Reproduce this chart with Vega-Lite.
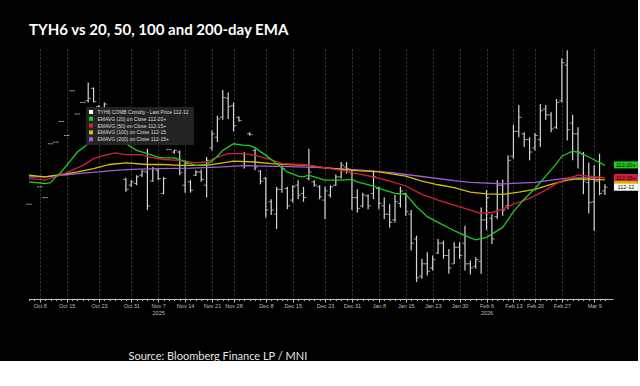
{
"$schema": "https://vega.github.io/schema/vega-lite/v6.json",
"width": 584, "height": 250,
"padding": {"left": 26, "top": 23, "right": 0, "bottom": 0},
"background": "#000000",
"title": {"text": "TYH6 vs 20, 50, 100 and 200-day EMA", "anchor": "start", "frame": "group", "color": "#ffffff", "fontSize": 15, "fontWeight": "bold", "font": "Lato", "offset": 11},
"config": {"view": {"stroke": null}, "font": "Liberation Sans"},
"datasets": {
"bars": [
{"d":"2025-10-06","o":112.17,"h":112.17,"l":112.17,"c":112.17},
{"d":"2025-10-08","o":112.38,"h":112.38,"l":112.38,"c":112.38},
{"d":"2025-10-09","o":112.25,"h":112.25,"l":112.25,"c":112.25},
{"d":"2025-10-10","o":112.90,"h":112.90,"l":112.90,"c":112.90},
{"d":"2025-10-13","o":112.92,"h":112.92,"l":112.92,"c":112.92},
{"d":"2025-10-14","o":113.17,"h":113.17,"l":113.17,"c":113.17},
{"d":"2025-10-15","o":113.00,"h":113.00,"l":113.00,"c":113.00},
{"d":"2025-10-16","o":113.54,"h":113.54,"l":113.54,"c":113.54},
{"d":"2025-10-17","o":113.26,"h":113.26,"l":113.26,"c":113.26},
{"d":"2025-10-20","o":113.40,"h":113.40,"l":113.40,"c":113.40},
{"d":"2025-10-21","o":113.42,"h":113.64,"l":113.40,"c":113.45},
{"d":"2025-10-22","o":113.57,"h":113.58,"l":113.40,"c":113.41},
{"d":"2025-10-23","o":113.35,"h":113.37,"l":113.25,"c":113.28},
{"d":"2025-10-24","o":113.33,"h":113.40,"l":113.31,"c":113.38},
{"d":"2025-10-27","o":113.26,"h":113.28,"l":113.13,"c":113.15},
{"d":"2025-10-28","o":113.14,"h":113.16,"l":113.02,"c":113.05},
{"d":"2025-10-29","o":113.08,"h":113.12,"l":113.00,"c":113.02},
{"d":"2025-10-30","o":112.47,"h":112.49,"l":112.32,"c":112.35},
{"d":"2025-10-31","o":112.40,"h":112.46,"l":112.38,"c":112.44},
{"d":"2025-11-03","o":112.42,"h":112.52,"l":112.40,"c":112.50},
{"d":"2025-11-04","o":112.52,"h":112.58,"l":112.50,"c":112.57},
{"d":"2025-11-05","o":112.56,"h":112.84,"l":112.10,"c":112.15},
{"d":"2025-11-06","o":112.45,"h":112.62,"l":112.44,"c":112.60},
{"d":"2025-11-07","o":112.58,"h":112.60,"l":112.46,"c":112.48},
{"d":"2025-11-10","o":112.30,"h":112.50,"l":112.29,"c":112.48},
{"d":"2025-11-11","o":112.83,"h":112.83,"l":112.83,"c":112.83},
{"d":"2025-11-12","o":112.80,"h":112.83,"l":112.78,"c":112.82},
{"d":"2025-11-13","o":112.80,"h":112.82,"l":112.52,"c":112.55},
{"d":"2025-11-14","o":112.40,"h":112.70,"l":112.31,"c":112.66},
{"d":"2025-11-17","o":112.44,"h":112.46,"l":112.31,"c":112.34},
{"d":"2025-11-18","o":112.52,"h":112.58,"l":112.51,"c":112.56},
{"d":"2025-11-19","o":112.56,"h":112.59,"l":112.44,"c":112.47},
{"d":"2025-11-20","o":112.40,"h":112.74,"l":112.25,"c":112.70},
{"d":"2025-11-21","o":112.85,"h":113.06,"l":112.82,"c":113.02},
{"d":"2025-11-24","o":112.98,"h":113.24,"l":112.92,"c":113.20},
{"d":"2025-11-25","o":113.22,"h":113.55,"l":113.19,"c":113.46},
{"d":"2025-11-26","o":113.45,"h":113.52,"l":113.20,"c":113.35},
{"d":"2025-11-28","o":113.36,"h":113.40,"l":113.05,"c":113.12},
{"d":"2025-12-01","o":113.22,"h":113.23,"l":113.17,"c":113.18},
{"d":"2025-12-02","o":112.78,"h":112.80,"l":112.60,"c":112.64},
{"d":"2025-12-03","o":113.02,"h":113.04,"l":113.00,"c":113.01},
{"d":"2025-12-04","o":112.82,"h":112.84,"l":112.58,"c":112.62},
{"d":"2025-12-05","o":112.57,"h":112.58,"l":112.41,"c":112.45},
{"d":"2025-12-08","o":112.48,"h":112.50,"l":112.01,"c":112.10},
{"d":"2025-12-09","o":112.20,"h":112.23,"l":112.04,"c":112.10},
{"d":"2025-12-10","o":112.05,"h":112.38,"l":111.87,"c":112.35},
{"d":"2025-12-11","o":112.35,"h":112.64,"l":112.31,"c":112.60},
{"d":"2025-12-12","o":112.36,"h":112.38,"l":112.11,"c":112.15},
{"d":"2025-12-15","o":112.22,"h":112.40,"l":112.19,"c":112.38},
{"d":"2025-12-16","o":112.40,"h":112.46,"l":112.23,"c":112.28},
{"d":"2025-12-17","o":112.30,"h":112.38,"l":112.20,"c":112.25},
{"d":"2025-12-18","o":112.48,"h":112.84,"l":112.46,"c":112.56},
{"d":"2025-12-19","o":112.44,"h":112.46,"l":112.38,"c":112.40},
{"d":"2025-12-22","o":112.38,"h":112.40,"l":112.23,"c":112.26},
{"d":"2025-12-23","o":112.22,"h":112.38,"l":111.99,"c":112.33},
{"d":"2025-12-24","o":112.28,"h":112.40,"l":112.25,"c":112.38},
{"d":"2025-12-26","o":112.40,"h":112.53,"l":112.39,"c":112.50},
{"d":"2025-12-29","o":112.50,"h":112.68,"l":112.48,"c":112.64},
{"d":"2025-12-30","o":112.62,"h":112.68,"l":112.54,"c":112.60},
{"d":"2025-12-31","o":112.55,"h":112.58,"l":112.10,"c":112.25},
{"d":"2026-01-02","o":112.25,"h":112.35,"l":112.07,"c":112.12},
{"d":"2026-01-05","o":112.15,"h":112.31,"l":112.13,"c":112.28},
{"d":"2026-01-06","o":112.27,"h":112.29,"l":112.11,"c":112.15},
{"d":"2026-01-07","o":112.30,"h":112.58,"l":112.23,"c":112.50},
{"d":"2026-01-08","o":112.36,"h":112.38,"l":112.11,"c":112.18},
{"d":"2026-01-09","o":112.15,"h":112.25,"l":111.99,"c":112.05},
{"d":"2026-01-12","o":112.05,"h":112.17,"l":111.89,"c":111.95},
{"d":"2026-01-13","o":111.98,"h":112.28,"l":111.95,"c":112.20},
{"d":"2026-01-14","o":112.18,"h":112.38,"l":112.13,"c":112.33},
{"d":"2026-01-15","o":112.30,"h":112.31,"l":112.03,"c":112.08},
{"d":"2026-01-16","o":112.05,"h":112.10,"l":111.61,"c":111.70},
{"d":"2026-01-20","o":111.75,"h":111.79,"l":111.23,"c":111.28},
{"d":"2026-01-21","o":111.30,"h":111.51,"l":111.27,"c":111.45},
{"d":"2026-01-22","o":111.45,"h":111.59,"l":111.31,"c":111.36},
{"d":"2026-01-23","o":111.40,"h":111.55,"l":111.37,"c":111.50},
{"d":"2026-01-26","o":111.58,"h":111.75,"l":111.57,"c":111.70},
{"d":"2026-01-27","o":111.70,"h":111.73,"l":111.51,"c":111.55},
{"d":"2026-01-28","o":111.55,"h":111.63,"l":111.33,"c":111.40},
{"d":"2026-01-29","o":111.45,"h":111.71,"l":111.45,"c":111.65},
{"d":"2026-01-30","o":111.65,"h":111.71,"l":111.51,"c":111.55},
{"d":"2026-02-02","o":111.70,"h":111.91,"l":111.37,"c":111.45},
{"d":"2026-02-03","o":111.45,"h":111.49,"l":111.32,"c":111.40},
{"d":"2026-02-04","o":111.42,"h":111.53,"l":111.39,"c":111.50},
{"d":"2026-02-05","o":111.48,"h":112.13,"l":111.33,"c":111.98},
{"d":"2026-02-06","o":111.98,"h":112.34,"l":111.86,"c":112.25},
{"d":"2026-02-09","o":112.00,"h":112.05,"l":111.69,"c":111.75},
{"d":"2026-02-10","o":112.02,"h":112.46,"l":111.99,"c":112.40},
{"d":"2026-02-11","o":112.40,"h":112.47,"l":112.03,"c":112.10},
{"d":"2026-02-12","o":112.15,"h":112.76,"l":112.11,"c":112.70},
{"d":"2026-02-13","o":112.75,"h":113.13,"l":112.72,"c":113.05},
{"d":"2026-02-17","o":113.05,"h":113.37,"l":112.98,"c":113.22},
{"d":"2026-02-18","o":113.02,"h":113.04,"l":112.86,"c":112.95},
{"d":"2026-02-19","o":112.95,"h":112.98,"l":112.70,"c":112.80},
{"d":"2026-02-20","o":112.85,"h":113.03,"l":112.82,"c":113.00},
{"d":"2026-02-23","o":112.95,"h":113.38,"l":112.86,"c":113.30},
{"d":"2026-02-24","o":113.32,"h":113.37,"l":113.19,"c":113.25},
{"d":"2026-02-25","o":113.25,"h":113.28,"l":113.04,"c":113.08},
{"d":"2026-02-26","o":113.10,"h":113.44,"l":113.08,"c":113.40},
{"d":"2026-02-27","o":113.42,"h":113.93,"l":113.40,"c":113.88},
{"d":"2026-03-02","o":113.85,"h":114.03,"l":112.94,"c":113.07},
{"d":"2026-03-03","o":113.15,"h":113.25,"l":112.70,"c":113.02},
{"d":"2026-03-04","o":113.02,"h":113.10,"l":112.60,"c":112.80},
{"d":"2026-03-05","o":112.78,"h":112.80,"l":112.29,"c":112.45},
{"d":"2026-03-06","o":112.43,"h":112.67,"l":112.06,"c":112.19},
{"d":"2026-03-09","o":112.20,"h":112.64,"l":111.85,"c":112.45},
{"d":"2026-03-10","o":112.45,"h":112.78,"l":112.28,"c":112.30},
{"d":"2026-03-11","o":112.33,"h":112.41,"l":112.28,"c":112.375}
],
"ema": [
{"s":"200","d":"2025-10-06","v":112.50},{"s":"200","d":"2025-10-09","v":112.50},{"s":"200","d":"2025-10-14","v":112.52},{"s":"200","d":"2025-10-20","v":112.545},{"s":"200","d":"2025-10-23","v":112.56},{"s":"200","d":"2025-10-28","v":112.58},{"s":"200","d":"2025-10-31","v":112.59},{"s":"200","d":"2025-11-07","v":112.60},{"s":"200","d":"2025-11-17","v":112.605},{"s":"200","d":"2025-11-25","v":112.62},{"s":"200","d":"2025-12-02","v":112.635},{"s":"200","d":"2025-12-08","v":112.63},{"s":"200","d":"2025-12-16","v":112.62},{"s":"200","d":"2025-12-23","v":112.61},{"s":"200","d":"2026-01-02","v":112.585},{"s":"200","d":"2026-01-12","v":112.555},{"s":"200","d":"2026-01-21","v":112.505},{"s":"200","d":"2026-01-29","v":112.455},{"s":"200","d":"2026-02-03","v":112.435},{"s":"200","d":"2026-02-11","v":112.415},{"s":"200","d":"2026-02-20","v":112.435},{"s":"200","d":"2026-02-25","v":112.46},{"s":"200","d":"2026-03-02","v":112.485},{"s":"200","d":"2026-03-11","v":112.49},
{"s":"100","d":"2025-10-06","v":112.52},{"s":"100","d":"2025-10-09","v":112.50},{"s":"100","d":"2025-10-14","v":112.53},{"s":"100","d":"2025-10-17","v":112.56},{"s":"100","d":"2025-10-22","v":112.60},{"s":"100","d":"2025-10-27","v":112.65},{"s":"100","d":"2025-10-30","v":112.67},{"s":"100","d":"2025-11-05","v":112.65},{"s":"100","d":"2025-11-10","v":112.65},{"s":"100","d":"2025-11-13","v":112.64},{"s":"100","d":"2025-11-20","v":112.64},{"s":"100","d":"2025-11-25","v":112.67},{"s":"100","d":"2025-11-28","v":112.69},{"s":"100","d":"2025-12-04","v":112.68},{"s":"100","d":"2025-12-09","v":112.66},{"s":"100","d":"2025-12-12","v":112.65},{"s":"100","d":"2025-12-18","v":112.64},{"s":"100","d":"2025-12-23","v":112.61},{"s":"100","d":"2026-01-02","v":112.575},{"s":"100","d":"2026-01-08","v":112.56},{"s":"100","d":"2026-01-15","v":112.51},{"s":"100","d":"2026-01-21","v":112.45},{"s":"100","d":"2026-01-26","v":112.405},{"s":"100","d":"2026-01-29","v":112.37},{"s":"100","d":"2026-02-03","v":112.315},{"s":"100","d":"2026-02-06","v":112.295},{"s":"100","d":"2026-02-11","v":112.29},{"s":"100","d":"2026-02-17","v":112.315},{"s":"100","d":"2026-02-20","v":112.35},{"s":"100","d":"2026-02-25","v":112.41},{"s":"100","d":"2026-03-02","v":112.46},{"s":"100","d":"2026-03-04","v":112.475},{"s":"100","d":"2026-03-11","v":112.465},
{"s":"50","d":"2025-10-06","v":112.48},{"s":"50","d":"2025-10-09","v":112.46},{"s":"50","d":"2025-10-15","v":112.55},{"s":"50","d":"2025-10-20","v":112.64},{"s":"50","d":"2025-10-22","v":112.72},{"s":"50","d":"2025-10-24","v":112.76},{"s":"50","d":"2025-10-28","v":112.79},{"s":"50","d":"2025-10-30","v":112.77},{"s":"50","d":"2025-11-04","v":112.77},{"s":"50","d":"2025-11-05","v":112.745},{"s":"50","d":"2025-11-10","v":112.71},{"s":"50","d":"2025-11-13","v":112.70},{"s":"50","d":"2025-11-18","v":112.67},{"s":"50","d":"2025-11-20","v":112.68},{"s":"50","d":"2025-11-24","v":112.74},{"s":"50","d":"2025-11-26","v":112.78},{"s":"50","d":"2025-12-02","v":112.78},{"s":"50","d":"2025-12-04","v":112.76},{"s":"50","d":"2025-12-09","v":112.71},{"s":"50","d":"2025-12-11","v":112.66},{"s":"50","d":"2025-12-16","v":112.65},{"s":"50","d":"2025-12-18","v":112.64},{"s":"50","d":"2025-12-23","v":112.61},{"s":"50","d":"2025-12-29","v":112.58},{"s":"50","d":"2026-01-02","v":112.54},{"s":"50","d":"2026-01-07","v":112.50},{"s":"50","d":"2026-01-12","v":112.45},{"s":"50","d":"2026-01-15","v":112.39},{"s":"50","d":"2026-01-21","v":112.29},{"s":"50","d":"2026-01-26","v":112.22},{"s":"50","d":"2026-01-29","v":112.16},{"s":"50","d":"2026-02-03","v":112.10},{"s":"50","d":"2026-02-05","v":112.06},{"s":"50","d":"2026-02-09","v":112.07},{"s":"50","d":"2026-02-11","v":112.11},{"s":"50","d":"2026-02-13","v":112.17},{"s":"50","d":"2026-02-19","v":112.24},{"s":"50","d":"2026-02-24","v":112.34},{"s":"50","d":"2026-02-26","v":112.42},{"s":"50","d":"2026-03-02","v":112.48},{"s":"50","d":"2026-03-04","v":112.52},{"s":"50","d":"2026-03-06","v":112.51},{"s":"50","d":"2026-03-11","v":112.49},
{"s":"20","d":"2025-10-06","v":112.44},{"s":"20","d":"2025-10-09","v":112.42},{"s":"20","d":"2025-10-10","v":112.43},{"s":"20","d":"2025-10-13","v":112.50},{"s":"20","d":"2025-10-14","v":112.56},{"s":"20","d":"2025-10-15","v":112.64},{"s":"20","d":"2025-10-17","v":112.80},{"s":"20","d":"2025-10-21","v":112.90},{"s":"20","d":"2025-10-22","v":112.96},{"s":"20","d":"2025-10-24","v":113.02},{"s":"20","d":"2025-10-28","v":113.00},{"s":"20","d":"2025-10-29","v":112.94},{"s":"20","d":"2025-10-30","v":112.90},{"s":"20","d":"2025-11-03","v":112.82},{"s":"20","d":"2025-11-05","v":112.78},{"s":"20","d":"2025-11-07","v":112.74},{"s":"20","d":"2025-11-10","v":112.73},{"s":"20","d":"2025-11-12","v":112.73},{"s":"20","d":"2025-11-13","v":112.71},{"s":"20","d":"2025-11-14","v":112.68},{"s":"20","d":"2025-11-18","v":112.64},{"s":"20","d":"2025-11-20","v":112.65},{"s":"20","d":"2025-11-21","v":112.69},{"s":"20","d":"2025-11-24","v":112.75},{"s":"20","d":"2025-11-25","v":112.82},{"s":"20","d":"2025-11-26","v":112.86},{"s":"20","d":"2025-11-28","v":112.90},{"s":"20","d":"2025-12-02","v":112.88},{"s":"20","d":"2025-12-03","v":112.88},{"s":"20","d":"2025-12-04","v":112.85},{"s":"20","d":"2025-12-08","v":112.76},{"s":"20","d":"2025-12-10","v":112.66},{"s":"20","d":"2025-12-12","v":112.56},{"s":"20","d":"2025-12-16","v":112.51},{"s":"20","d":"2025-12-17","v":112.50},{"s":"20","d":"2025-12-18","v":112.52},{"s":"20","d":"2025-12-19","v":112.50},{"s":"20","d":"2025-12-23","v":112.46},{"s":"20","d":"2025-12-29","v":112.46},{"s":"20","d":"2025-12-31","v":112.47},{"s":"20","d":"2026-01-02","v":112.44},{"s":"20","d":"2026-01-07","v":112.39},{"s":"20","d":"2026-01-09","v":112.34},{"s":"20","d":"2026-01-13","v":112.30},{"s":"20","d":"2026-01-15","v":112.29},{"s":"20","d":"2026-01-20","v":112.14},{"s":"20","d":"2026-01-22","v":112.02},{"s":"20","d":"2026-01-26","v":111.95},{"s":"20","d":"2026-01-29","v":111.85},{"s":"20","d":"2026-02-02","v":111.79},{"s":"20","d":"2026-02-04","v":111.74},{"s":"20","d":"2026-02-06","v":111.77},{"s":"20","d":"2026-02-11","v":111.89},{"s":"20","d":"2026-02-13","v":112.08},{"s":"20","d":"2026-02-18","v":112.23},{"s":"20","d":"2026-02-20","v":112.36},{"s":"20","d":"2026-02-24","v":112.51},{"s":"20","d":"2026-02-26","v":112.66},{"s":"20","d":"2026-02-27","v":112.75},{"s":"20","d":"2026-03-03","v":112.81},{"s":"20","d":"2026-03-04","v":112.80},{"s":"20","d":"2026-03-06","v":112.74},{"s":"20","d":"2026-03-11","v":112.64}
],
"tags": [
{"s":"200","d":"2026-03-11","v":112.49,"t":"112-15+"},
{"s":"100","d":"2026-03-11","v":112.44,"t":"112-15"},
{"s":"20","d":"2026-03-11","v":112.645,"t":"112-20+"},
{"s":"50","d":"2026-03-11","v":112.49,"t":"112-15+"},
{"s":"Last","d":"2026-03-11","v":112.375,"t":"112-12"}
]
},
"encoding": {
"x": {"field": "d", "type": "ordinal", "title": "Source: Bloomberg Finance LP / MNI",
 "scale": {"type": "point", "padding": 0.75, "align": 0, "domain": ["2025-10-06","2025-10-07","2025-10-08","2025-10-09","2025-10-10","2025-10-13","2025-10-14","2025-10-15","2025-10-16","2025-10-17","2025-10-20","2025-10-21","2025-10-22","2025-10-23","2025-10-24","2025-10-27","2025-10-28","2025-10-29","2025-10-30","2025-10-31","2025-11-03","2025-11-04","2025-11-05","2025-11-06","2025-11-07","2025-11-10","2025-11-11","2025-11-12","2025-11-13","2025-11-14","2025-11-17","2025-11-18","2025-11-19","2025-11-20","2025-11-21","2025-11-24","2025-11-25","2025-11-26","2025-11-28","2025-12-01","2025-12-02","2025-12-03","2025-12-04","2025-12-05","2025-12-08","2025-12-09","2025-12-10","2025-12-11","2025-12-12","2025-12-15","2025-12-16","2025-12-17","2025-12-18","2025-12-19","2025-12-22","2025-12-23","2025-12-24","2025-12-26","2025-12-29","2025-12-30","2025-12-31","2026-01-02","2026-01-05","2026-01-06","2026-01-07","2026-01-08","2026-01-09","2026-01-12","2026-01-13","2026-01-14","2026-01-15","2026-01-16","2026-01-20","2026-01-21","2026-01-22","2026-01-23","2026-01-26","2026-01-27","2026-01-28","2026-01-29","2026-01-30","2026-02-02","2026-02-03","2026-02-04","2026-02-05","2026-02-06","2026-02-09","2026-02-10","2026-02-11","2026-02-12","2026-02-13","2026-02-17","2026-02-18","2026-02-19","2026-02-20","2026-02-23","2026-02-24","2026-02-25","2026-02-26","2026-02-27","2026-03-02","2026-03-03","2026-03-04","2026-03-05","2026-03-06","2026-03-09","2026-03-10","2026-03-11"]},
 "axis": {"labelAngle": 0, "labelOverlap": false, "labelFontSize": 5.5, "labelColor": "#bdbdbd", "labelPadding": 1.5, "labelLineHeight": 7, "labelBaseline": "top",
  "labelExpr": "indexof(['2025-10-08','2025-10-15','2025-10-23','2025-10-31','2025-11-07','2025-11-14','2025-11-21','2025-11-28','2025-12-08','2025-12-15','2025-12-23','2025-12-31','2026-01-08','2026-01-15','2026-01-23','2026-01-30','2026-02-06','2026-02-13','2026-02-20','2026-02-27','2026-03-09'], datum.value) < 0 ? '' : (datum.value == '2025-11-07' ? ['Nov 7', '2025'] : (datum.value == '2026-02-06' ? ['Feb 6', '2026'] : utcFormat(toDate(datum.value), '%b %-d')))",
  "tickColor": "#bdbdbd", "tickWidth": 1,
  "tickSize": {"condition": {"test": "indexof(['2025-10-08','2025-10-15','2025-10-23','2025-10-31','2025-11-07','2025-11-14','2025-11-21','2025-11-28','2025-12-08','2025-12-15','2025-12-23','2025-12-31','2026-01-08','2026-01-15','2026-01-23','2026-01-30','2026-02-06','2026-02-13','2026-02-20','2026-02-27','2026-03-09'], datum.value) >= 0", "value": 3}, "value": 1.5},
  "domainColor": "#bdbdbd", "domainWidth": 1,
  "grid": true, "gridColor": "#3d3d3d", "gridDash": [2, 2],
  "gridOpacity": {"condition": {"test": "indexof(['2025-10-08','2025-10-15','2025-10-23','2025-10-31','2025-11-07','2025-11-14','2025-11-21','2025-11-28','2025-12-08','2025-12-15','2025-12-23','2025-12-31','2026-01-08','2026-01-15','2026-01-23','2026-01-30','2026-02-06','2026-02-13','2026-02-20','2026-02-27','2026-03-09'], datum.value) >= 0", "value": 1}, "value": 0},
  "titleColor": "#e6e6e6", "titleFont": "Lato", "titleFontSize": 11, "titleFontWeight": "normal", "titleAnchor": "start", "titleAlign": "left", "titleBaseline": "alphabetic", "titleX": 99, "titleY": 60}}
},
"layer": [
{"data": {"name": "bars"},
 "mark": {"type": "rule", "color": "#d6d6d6", "strokeWidth": 1.2},
 "encoding": {
  "y": {"field": "l", "type": "quantitative", "title": null, "scale": {"domain": [111.025, 114.045], "nice": false, "zero": false},
   "axis": {"orient": "right", "values": [111.25, 111.5, 111.75, 112, 112.25, 112.5, 112.75, 113, 113.25, 113.5, 113.75, 114],
    "labelExpr": "datum.value % 1 == 0 ? format(datum.value, 'd') : (datum.value % 1 == 0.5 ? floor(datum.value) + '-16' : '')",
    "labelFontSize": 5.5, "labelColor": "#bdbdbd", "labelPadding": 1.5, "labelOverlap": false, "tickSize": 2.5, "tickColor": "#bdbdbd", "domainColor": "#bdbdbd",
    "grid": true, "gridColor": "#3d3d3d", "gridDash": [2, 2],
    "gridOpacity": {"condition": {"test": "datum.value % 0.5 == 0", "value": 1}, "value": 0}}},
  "y2": {"field": "h"}}},
{"data": {"name": "bars"},
 "mark": {"type": "tick", "orient": "horizontal", "color": "#d6d6d6", "size": 2.6, "thickness": 1, "xOffset": -1.5},
 "encoding": {"y": {"field": "o", "type": "quantitative", "scale": {"domain": [111.025, 114.045], "nice": false, "zero": false}, "axis": null}}},
{"data": {"name": "bars"},
 "mark": {"type": "tick", "orient": "horizontal", "color": "#d6d6d6", "size": 2.6, "thickness": 1, "xOffset": 1.5},
 "encoding": {"y": {"field": "c", "type": "quantitative", "scale": {"domain": [111.025, 114.045], "nice": false, "zero": false}, "axis": null}}},
{"data": {"name": "ema"},
 "mark": {"type": "line", "strokeWidth": 1.3},
 "encoding": {
  "y": {"field": "v", "type": "quantitative", "scale": {"domain": [111.025, 114.045], "nice": false, "zero": false}, "axis": null},
  "color": {"field": "s", "type": "nominal",
   "scale": {"domain": ["Last", "20", "50", "100", "200"], "range": ["#ffffff", "#1ecb1e", "#d41e3c", "#d4bf00", "#a85ad8"]},
   "legend": {"orient": "none", "legendX": 57, "legendY": 58, "title": null, "symbolType": "square", "symbolSize": 16, "symbolStrokeWidth": 0,
    "labelFontSize": 5, "labelColor": "#dcdcdc", "labelFont": "Liberation Sans", "rowPadding": 0.8, "padding": 2.5, "labelOffset": 4,
    "fillColor": "rgba(38,38,38,0.92)", "labelLimit": 200,
    "labelExpr": "datum.label == 'Last' ? 'TYH6 COMB Comdty - Last Price   112-12' : (datum.label == '20' ? 'EMAVG (20)   on Close   112-20+' : (datum.label == '50' ? 'EMAVG (50)   on Close   112-15+' : (datum.label == '100' ? 'EMAVG (100)  on Close  112-15' : 'EMAVG (200)  on Close  112-15+')))",
    "encode": {"symbols": {"update": {"fill": {"scale": "color", "field": "value"}, "strokeWidth": {"value": 0}}}}}}}},
{"data": {"name": "tags"},
 "mark": {"type": "point", "filled": true, "opacity": 1, "shape": "M-1,-0.29H1V0.29H-1Z", "size": 576, "xOffset": 21, "strokeWidth": 0},
 "encoding": {
  "y": {"field": "v", "type": "quantitative", "scale": {"domain": [111.025, 114.045], "nice": false, "zero": false}, "axis": null},
  "color": {"field": "s", "type": "nominal", "legend": null}}},
{"data": {"name": "tags"},
 "transform": [{"filter": "datum.s == '20' || datum.s == '50' || datum.s == 'Last'"}],
 "mark": {"type": "text", "xOffset": 21, "fontSize": 5.5, "color": "#000000", "baseline": "middle", "align": "center"},
 "encoding": {
  "y": {"field": "v", "type": "quantitative", "scale": {"domain": [111.025, 114.045], "nice": false, "zero": false}, "axis": null},
  "text": {"field": "t"}}}
]
}
